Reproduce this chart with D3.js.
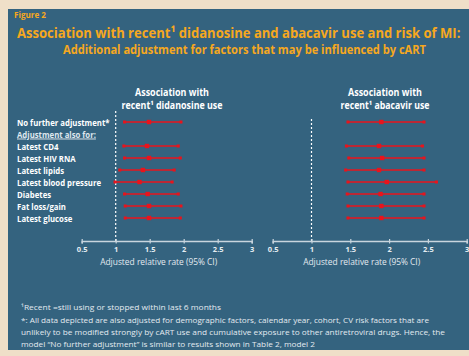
<!DOCTYPE html>
<html>
<head>
<meta charset="utf-8">
<script src="https://cdn.jsdelivr.net/npm/d3@7/dist/d3.min.js"></script>
<style>
  html, body { margin: 0; padding: 0; background: #efdfc8; }
  svg { display: block; }
  text { font-family: "Open Sans", "DejaVu Sans", sans-serif; }
</style>
</head>
<body>
<script>
// Row labels (the "Adjustment also for:" line is a sub-heading, not a data row)
const rowLabels = ["No further adjustment*", "Latest CD4", "Latest HIV RNA", "Latest  lipids",
                   "Latest blood pressure", "Diabetes", "Fat loss/gain", "Latest glucose"];
const rowOrder = ["No further adjustment*", "Adjustment also for:", "Latest CD4", "Latest HIV RNA",
                  "Latest  lipids", "Latest blood pressure", "Diabetes", "Fat loss/gain", "Latest glucose"];

// Didanosine: adjusted relative rate and 95% CI
const ddiEst = [1.49, 1.46, 1.49, 1.40, 1.35, 1.47, 1.49, 1.49];
const ddiLo  = [1.13, 1.12, 1.13, 1.06, 0.99, 1.13, 1.14, 1.14];
const ddiHi  = [1.96, 1.92, 1.95, 1.86, 1.83, 1.92, 1.96, 1.95];

// Abacavir: adjusted relative rate and 95% CI
const abcEst = [1.90, 1.87, 1.91, 1.87, 1.97, 1.89, 1.90, 1.90];
const abcLo  = [1.47, 1.45, 1.48, 1.44, 1.47, 1.46, 1.47, 1.47];
const abcHi  = [2.45, 2.43, 2.45, 2.45, 2.61, 2.45, 2.45, 2.45];

const tickValues = [0.5, 1, 1.5, 2, 2.5, 3];
const tickLabels = ["0.5", "1", "1.5", "2", "2.5", "3"];

const W = 469, H = 356;
const BLUE = "#34637f", ORANGE = "#f6a81e", RED = "#e8141c", AXIS = "#c9d5de";

const svg = d3.select("body").append("svg").attr("width", W).attr("height", H);

// Condensed look: squeeze a text to a given width, keeping its height
function fitTo(sel, width) {
  sel.attr("textLength", width).attr("lengthAdjust", "spacingAndGlyphs");
  return sel;
}
function squeeze(sel, ratio) {
  sel.each(function () {
    const w = this.getComputedTextLength();
    d3.select(this).attr("textLength", w * ratio).attr("lengthAdjust", "spacingAndGlyphs");
  });
  return sel;
}
// Horizontal scaling through a transform (text anchored at x, y)
function scaleTo(sel, x, y, width) {
  const w = sel.node().getComputedTextLength();
  sel.attr("x", 0).attr("y", 0).attr("transform", `translate(${x},${y}) scale(${width / w},1)`);
  return sel;
}

// Panel
svg.append("rect").attr("x", 8).attr("y", 9).attr("width", W - 8).attr("height", 341).attr("fill", BLUE);

// Headings
fitTo(svg.append("text").attr("x", 14).attr("y", 18).attr("fill", ORANGE)
  .attr("font-size", 9).attr("font-weight", "bold").text("Figure 2"), 32);
scaleTo(svg.append("text").attr("fill", ORANGE)
  .attr("font-size", 15).attr("font-weight", "bold")
  .text("Association with recent\u00B9 didanosine and abacavir use and risk of MI:"), 17, 38, 444);
fitTo(svg.append("text").attr("x", 63).attr("y", 54).attr("fill", ORANGE)
  .attr("font-size", 12).attr("font-weight", "bold")
  .text("Additional adjustment for factors that may be influenced by cART"), 363);

const y = d3.scalePoint().domain(rowOrder).range([122, 218]);

// Row labels, condensed by one common ratio
const lab = svg.append("g").attr("fill", "#ffffff").attr("font-size", 9.5).attr("font-weight", "bold");
rowOrder.forEach(r => {
  const t = lab.append("text").attr("x", 17).attr("y", y(r) + 3.5).text(r);
  if (r === "Adjustment also for:") t.attr("text-decoration", "underline").attr("fill", "#dfe7ee");
});
const refW = lab.selectAll("text").filter(function () { return this.textContent === "Latest blood pressure"; })
  .node().getComputedTextLength();
squeeze(lab.selectAll("text"), 84 / refW);

const axisY = 241;

function panel(xRange, est, lo, hi, head2, head2W, dashTop, center) {
  const x = d3.scaleLinear().domain([0.5, 3]).range(xRange);
  const g = svg.append("g");

  // Header
  const h = g.append("g").attr("fill", "#ffffff").attr("font-size", 10).attr("font-weight", "bold");
  fitTo(h.append("text").attr("x", center - 37).attr("y", 96).text("Association with"), 74);
  fitTo(h.append("text").attr("x", center - head2W / 2).attr("y", 109).text(head2), head2W);

  // Reference line at 1
  g.append("line").attr("x1", x(1)).attr("x2", x(1)).attr("y1", dashTop).attr("y2", axisY)
    .attr("stroke", "#ffffff").attr("stroke-width", 1.2).attr("stroke-dasharray", "2,2");

  // Axis
  const ax = g.append("g").attr("transform", `translate(0,${axisY})`)
    .call(d3.axisBottom(x).tickValues(tickValues).tickSize(2.5)
      .tickFormat((d, i) => tickLabels[i]));
  ax.select(".domain").attr("stroke", AXIS).attr("stroke-width", 1.5);
  ax.selectAll(".tick line").attr("stroke", AXIS).attr("stroke-width", 1.2).attr("y1", -2);
  ax.selectAll(".tick text").attr("fill", "#e6edf2").attr("font-size", 7.5)
    .attr("font-family", "\"Open Sans\", sans-serif").attr("font-weight", "bold").attr("y", 6);
  const axCenter = (xRange[0] + xRange[1]) / 2 - 8;
  fitTo(g.append("text").attr("x", axCenter - 58.5).attr("y", 265)
    .attr("fill", "#e3eaf0").attr("font-size", 9.5)
    .text("Adjusted relative rate (95% CI)"), 117);

  // Confidence intervals and estimates
  const rows = rowLabels.map((r, i) => ({ r, est: est[i], lo: lo[i], hi: hi[i] }));
  const m = g.append("g");
  m.selectAll("line.ci").data(rows).join("line").attr("class", "ci")
    .attr("x1", d => x(d.lo)).attr("x2", d => x(d.hi))
    .attr("y1", d => y(d.r)).attr("y2", d => y(d.r))
    .attr("stroke", RED).attr("stroke-width", 1.4);
  m.selectAll("rect.lo").data(rows).join("rect").attr("class", "lo")
    .attr("x", d => x(d.lo) - 1.5).attr("y", d => y(d.r) - 1.5)
    .attr("width", 3).attr("height", 3).attr("fill", RED);
  m.selectAll("rect.hi").data(rows).join("rect").attr("class", "hi")
    .attr("x", d => x(d.hi) - 1.5).attr("y", d => y(d.r) - 1.5)
    .attr("width", 3).attr("height", 3).attr("fill", RED);
  m.selectAll("rect.est").data(rows).join("rect").attr("class", "est")
    .attr("x", d => x(d.est) - 2.2).attr("y", d => y(d.r) - 2.2)
    .attr("width", 4.4).attr("height", 4.4).attr("fill", RED);
}

panel([81.7, 251.7], ddiEst, ddiLo, ddiHi, "recent\u00B9 didanosine use", 101, 111, 172);
panel([272.7, 466.7], abcEst, abcLo, abcHi, "recent\u00B9 abacavir use", 89, 119, 385);

// Footnotes
const fn = svg.append("g").attr("fill", "#e3eaf0").attr("font-size", 8);
const notes = [
  "\u00B9Recent =still using or stopped within last 6 months",
  "*: All data depicted are also adjusted for demographic factors, calendar year, cohort, CV risk factors that are",
  "unlikely to be modified strongly by cART use and cumulative exposure to other antiretroviral drugs. Hence, the",
  "model \u201CNo further adjustment\u201D is similar to results shown in Table 2, model 2"
];
const noteW = [200, 408, 424, 294];
[310, 323, 335, 347].forEach((yy, i) =>
  fitTo(fn.append("text").attr("x", 21).attr("y", yy).text(notes[i]), noteW[i]));
</script>
</body>
</html>
